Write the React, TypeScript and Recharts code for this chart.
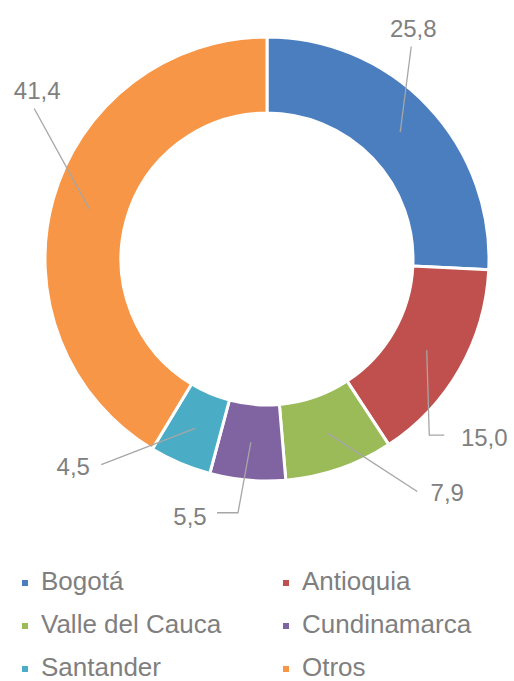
import { PieChart, Pie, Cell, Legend } from "recharts";

// Participación por departamento (%)
const categories = ["Bogotá", "Antioquia", "Valle del Cauca", "Cundinamarca", "Santander", "Otros"];
const shares = [25.8, 15.0, 7.9, 5.5, 4.5, 41.4];
const colors = ["#4a7ebf", "#c0504d", "#9bbb59", "#8064a2", "#4bacc6", "#f79646"];

const data = categories.map((name, i) => ({ name, value: shares[i] }));

// label placement tweaks (angle nudge in deg, radius, leader end offset, elbow length)
const labelLayout = [
  { dA: -14, r: 273, dx: -2, dy: 18, h: 0 },
  { dA: 9.6, r: 281, dx: -40, dy: -2, h: 15 },
  { dA: -18.6, r: 295, dx: -30, dy: -1, h: 0 },
  { dA: 11.6, r: 269, dx: 27, dy: -4, h: 21 },
  { dA: 20, r: 284, dx: 28, dy: -2, h: 0 },
  { dA: 20.7, r: 285, dx: -3, dy: 18, h: 0 },
];

const TEXT = "#808080";
const LINE = "#a6a6a6";

const renderLabel = (props: any) => {
  const { cx, cy, midAngle, innerRadius, outerRadius, index, value } = props;
  const cw = ((90 - midAngle) * Math.PI) / 180;
  const midR = (innerRadius + outerRadius) / 2;
  const sx = cx + midR * Math.sin(cw);
  const sy = cy - midR * Math.cos(cw);
  const lay = labelLayout[index];
  const ta = cw + (lay.dA * Math.PI) / 180;
  const tx = cx + lay.r * Math.sin(ta);
  const ty = cy - lay.r * Math.cos(ta);
  const ex = tx + lay.dx;
  const ey = ty + lay.dy;
  const side = ex > cx ? -1 : 1;
  const pts = lay.h
    ? `${sx},${sy} ${ex + side * lay.h},${ey} ${ex},${ey}`
    : `${sx},${sy} ${ex},${ey}`;
  return (
    <g key={`lbl-${index}`}>
      <polyline points={pts} fill="none" stroke={LINE} strokeWidth={1.3} />
      <text
        x={tx}
        y={ty}
        textAnchor="middle"
        dominantBaseline="central"
        fill={TEXT}
        fontSize={24}
        fontFamily="'Liberation Sans', Arial, sans-serif"
      >
        {Number(value).toFixed(1).replace(".", ",")}
      </text>
    </g>
  );
};

// legend in data order (two columns)
const renderLegend = () => (
  <div
    style={{
      display: "grid",
      gridTemplateColumns: "261px 253px",
      rowGap: 13,
      fontFamily: "'Liberation Sans', Arial, sans-serif",
      fontSize: 26,
      color: "#7f7f7f",
      lineHeight: "30px",
    }}
  >
    {data.map((d, i) => (
      <div key={d.name} style={{ display: "flex", alignItems: "center", paddingLeft: 22 }}>
        <span style={{ width: 6, height: 6, background: colors[i], display: "inline-block", marginRight: 13, marginTop: 3 }} />
        <span>{d.name}</span>
      </div>
    ))}
  </div>
);

export default function App() {
  return (
    <div style={{ position: "absolute", left: 0, top: 0, width: 514, height: 681, background: "#fff" }}>
      <PieChart width={514} height={681} margin={{ top: 0, right: 0, bottom: 0, left: 0 }}>
        <Pie
          data={data}
          dataKey="value"
          nameKey="name"
          cx={267}
          cy={259}
          innerRadius={146}
          outerRadius={222}
          startAngle={90}
          endAngle={-270}
          stroke="#ffffff"
          strokeWidth={3}
          label={renderLabel}
          labelLine={false}
          isAnimationActive={false}
        >
          {data.map((d, i) => (
            <Cell key={d.name} fill={colors[i]} />
          ))}
        </Pie>
        <Legend
          content={renderLegend}
          wrapperStyle={{ position: "absolute", top: 566, left: 0, width: 514 }}
        />
      </PieChart>
    </div>
  );
}
